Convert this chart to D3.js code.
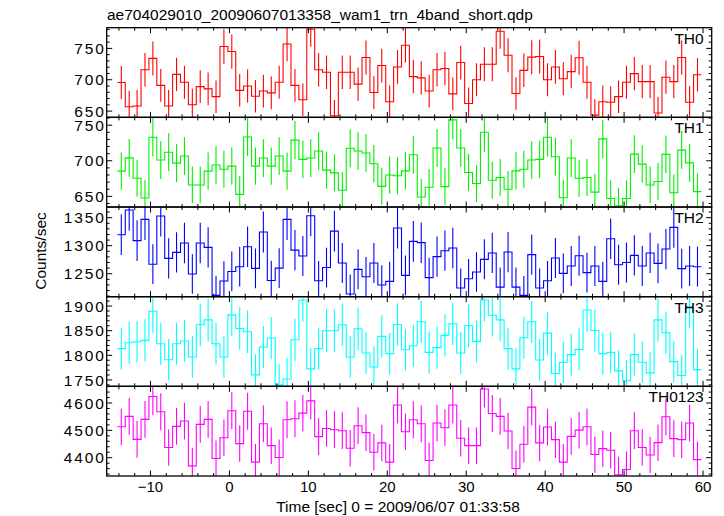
<!DOCTYPE html>
<html><head><meta charset="utf-8">
<script src="https://cdn.jsdelivr.net/npm/d3@7"></script>
<style>
body{margin:0;background:#fff;}
text{font-family:"Liberation Sans",Arial,Helvetica,sans-serif;fill:#000;}
</style></head>
<body><svg id="c" width="724" height="516"></svg>
<script>
// ---------- data ----------
const title = "ae704029010_20090607013358_wam1_trn_4band_short.qdp";
const xTitle = "Time [sec] 0 = 2009/06/07 01:33:58";
const yTitle = "Counts/sec";
const bandNames = ["TH0","TH1","TH2","TH3","TH0123"];
const firstBinCenter = -13.7;   // seconds
const binWidth = 1.0;           // seconds
const xTickLabels = [-10,0,10,20,30,40,50,60];

const th0 = [695.7,657,658,716,734,691,658,708.6,696,660,689,685.5,673,753,745,683,690,673.7,682,679,696,757,691,668,780.6,716,712,642.5,712,712,693,735.5,679.6,722.6,665,720.4,
 755,705,703,682,716,718,677.4,727.4,662,700,724.7,724.7,777.4,739,678,715,736,737,700,720.4,701.6,713,735,696,643.5,665,664,673,696,709.7,697,697,647,704,697,735.5,664,708];
const th1 = [685.4,704,675.5,647.6,733,701,712,696.7,706.6,666,666,685.4,694,688,692.5,652.8,733.5,692.5,703.8,692.5,706.6,685.4,729,702,703.8,713.7,686.8,683,658.5,717.5,713.7,711,695.8,664,680,679,
 685.8,708.5,649,662.7,718,663.7,757.5,718,683.5,668,740,672.6,676.4,660,685.8,688,701,702,733,705.7,648,703.8,675.5,676.4,656,730.7,647,636.8,647,709.4,695.3,666,670.8,709,655,715,697,656.6];
const th2 = [1319.6,1363.7,1309,1347,1267,1353,1277.4,1288,1304.8,1249.4,1304.8,1297,1211.3,1237,1254,1262.5,1298,1259.5,1324.4,1238,1260,1347,1292,1281.5,1353.5,1237.5,1261,1326,1269,1213.7,1257.8,1244.7,1269,1229.8,1236.3,1331.5,
 1247,1307.7,1305.4,1243,1280.4,1291,1295.8,1224.4,1241,1253,1275.6,1287,1226,1288.7,1226,1211.3,1284,1224.4,1237.5,1278,1250.6,1263.7,1282,1252,1263.7,1236.3,1312.5,1266,1270,1282.7,1263.7,1287,1268.5,1294,1332.7,1259,1263.7,1262.5];
const th3 = [1813.5,1825.6,1827.6,1830.3,1889.5,1823.6,1791,1823.6,1829,1796.6,1862,1872,1823.6,1796.6,1882,1854.5,1847.8,1760.3,1816.8,1835,1740,1752,1831.6,1912.4,1772.4,1813.5,1849.8,1849.8,1862,1796.6,1853.8,1804.7,1776.4,1838.4,1803.4,1862.6,
 1811.4,1819.5,1868,1806,1815.5,1840.4,1864,1804.7,1860,1828.3,1912.4,1881.4,1872,1813.5,1772.4,1835.7,1868,1790.6,1845,1763,1785.9,1801.3,1812,1892,1850.5,1803.4,1806,1768.4,1748.2,1801.3,1785.9,1764.3,1872,1845.8,1787.2,1759,1899,1771];
const th0123 = [4513,4551,4467,4540,4623.6,4568,4437,4514.5,4534,4370,4522,4540,4397,4473,4571.5,4451.5,4570,4383.6,4524,4444,4400.6,4538.8,4542.4,4563,4608,4477,4507,4502.4,4498.8,4434.5,4517,4491.5,4420,4454,4383.6,4593,
 4495,4538.8,4524,4389.7,4526.7,4509.7,4593,4471,4444,4444,4651.5,4561.8,4551,4497.6,4360.6,4449,4585,4454,4512,4466,4383.6,4478,4501,4513,4411.5,4433,4427,4337.6,4357,4498.8,4437,4410,4455,4549.7,4469.7,4466,4526.7,4393];
const series = [th0, th1, th2, th3, th0123];
const colors = ["#ff0000","#00f000","#0000ff","#00ffff","#ff00ff"];
const yRanges = [[640,783],[635,761],[1209,1369],[1737,1919],[4333,4661]];
const yMajor = [50,50,50,50,100];
const yMinor = [10,10,10,10,20];
const yTickLabels = [[650,700,750],[650,700,750],[1250,1300,1350],[1750,1800,1850,1900],[4400,4500,4600]];
const xRange = [-15.55, 61.1];

// ---------- layout ----------
const svg = d3.select("#c");
const plotL = 106.7, plotR = 711.7, plotT = 27.7, plotB = 476;
const nP = series.length;
const pH = (plotB - plotT) / nP;
const x = d3.scaleLinear().domain(xRange).range([plotL, plotR]);
const fmt = v => (v < 0 ? "\u2212" + Math.abs(v) : String(v));

svg.append("text").attr("x", 107).attr("y", 20).attr("font-size", 15.5).text(title);

const xMajorVals = d3.range(-10, 61, 10);
const xMinorVals = d3.range(-14, 61, 2).filter(v => v % 10 !== 0);

series.forEach((vals, p) => {
  const y0 = plotT + p * pH, y1 = y0 + pH;
  const y = d3.scaleLinear().domain(yRanges[p]).range([y1, y0]);
  const g = svg.append("g");
  const clipId = "clip" + p;
  svg.append("clipPath").attr("id", clipId).append("rect")
    .attr("x", plotL).attr("y", y0).attr("width", plotR - plotL).attr("height", pH);
  const data = vals.map((v, i) => ({t: firstBinCenter + i * binWidth, v: v, e: Math.sqrt(v)}));
  const pts = data.map(d => [d.t - binWidth / 2, d.v]);
  pts.push([data[data.length - 1].t + binWidth / 2, data[data.length - 1].v]);
  const line = d3.line().x(d => x(d[0])).y(d => y(d[1])).curve(d3.curveStepAfter);
  const gc = g.append("g").attr("clip-path", `url(#${clipId})`);
  gc.append("path").datum(pts).attr("d", line).attr("fill", "none")
    .attr("stroke", colors[p]).attr("stroke-width", 1.1);
  gc.selectAll("line.err").data(data).join("line").attr("class", "err")
    .attr("x1", d => x(d.t)).attr("x2", d => x(d.t))
    .attr("y1", d => y(d.v - d.e)).attr("y2", d => y(d.v + d.e))
    .attr("stroke", colors[p]).attr("stroke-width", 1.1);

  const tickG = g.append("g").attr("stroke", "#000").attr("stroke-width", 1);
  const yMaj = d3.range(Math.ceil(yRanges[p][0] / yMajor[p]) * yMajor[p], yRanges[p][1], yMajor[p]);
  const yMin = d3.range(Math.ceil(yRanges[p][0] / yMinor[p]) * yMinor[p], yRanges[p][1], yMinor[p]).filter(v => v % yMajor[p] !== 0);
  const addT = (tv, len) => {
    tv.forEach(t => {
      const xx = x(t);
      tickG.append("line").attr("x1", xx).attr("x2", xx).attr("y1", y1).attr("y2", y1 - len);
      tickG.append("line").attr("x1", xx).attr("x2", xx).attr("y1", y0).attr("y2", y0 + len);
    });
  };
  addT(xMajorVals, 5.5); addT(xMinorVals, 3);
  const addY = (tv, len) => {
    tv.forEach(t => {
      const yy = y(t);
      tickG.append("line").attr("x1", plotL).attr("x2", plotL + len).attr("y1", yy).attr("y2", yy);
      tickG.append("line").attr("x1", plotR).attr("x2", plotR - len).attr("y1", yy).attr("y2", yy);
    });
  };
  addY(yMaj, 5.5); addY(yMin, 3);

  g.append("rect").attr("x", plotL).attr("y", y0).attr("width", plotR - plotL).attr("height", pH)
    .attr("fill", "none").attr("stroke", "#000").attr("stroke-width", 1.3);

  g.selectAll("text.yl").data(yTickLabels[p]).join("text").attr("class", "yl")
    .attr("x", plotL - 0.8).attr("y", d => y(d)).attr("dy", "0.36em")
    .attr("text-anchor", "end").attr("font-size", 15.5).attr("letter-spacing", "1.9px")
    .text(d => d);

  g.append("text").attr("x", plotR - 8).attr("y", y0 + 16).attr("text-anchor", "end")
    .attr("font-size", 15.5).text(bandNames[p]);
});

svg.selectAll("text.xl").data(xTickLabels).join("text").attr("class", "xl")
  .attr("x", d => x(d)).attr("y", 492).attr("text-anchor", "middle")
  .attr("font-size", 15).text(d => fmt(d));

svg.append("text").attr("x", 398).attr("y", 512).attr("text-anchor", "middle")
  .attr("font-size", 15.5).text(xTitle);

svg.append("text").attr("transform", "translate(46,251) rotate(-90)")
  .attr("text-anchor", "middle").attr("font-size", 15.5).text(yTitle);
</script></body></html>
